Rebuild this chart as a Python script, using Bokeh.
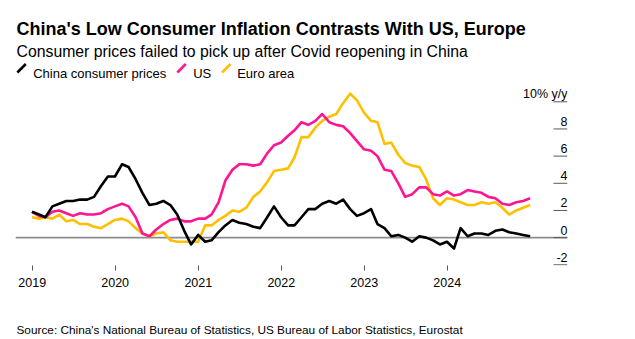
import pandas as pd
from bokeh.plotting import figure
from bokeh.layouts import column
from bokeh.models import Range1d, FixedTicker, DatetimeTickFormatter, Span, ColumnDataSource
from bokeh.core.properties import value
from bokeh.embed import file_html
from bokeh.resources import INLINE

# ---------------- data (y/y %, month end, Dec 2018 .. Dec 2024) ----------------
months = pd.date_range("2018-12-31", periods=73, freq="ME")
china = [1.9,
         1.7, 1.5, 2.3, 2.5, 2.7, 2.7, 2.8, 2.8, 3.0, 3.8, 4.5, 4.5,
         5.4, 5.2, 4.3, 3.3, 2.4, 2.5, 2.7, 2.4, 1.7, 0.5, -0.5, 0.2,
         -0.3, -0.2, 0.4, 0.9, 1.3, 1.1, 1.0, 0.8, 0.7, 1.5, 2.3, 1.5,
         0.9, 0.9, 1.5, 2.1, 2.1, 2.5, 2.7, 2.5, 2.8, 2.1, 1.6, 1.8,
         2.1, 1.0, 0.7, 0.1, 0.2, 0.0, -0.3, 0.1, 0.0, -0.2, -0.5, -0.3,
         -0.8, 0.7, 0.1, 0.3, 0.3, 0.2, 0.5, 0.6, 0.4, 0.3, 0.2, 0.1]
us = [1.9,
      1.6, 1.5, 1.9, 2.0, 1.8, 1.6, 1.8, 1.7, 1.7, 1.8, 2.1, 2.3,
      2.5, 2.3, 1.5, 0.3, 0.1, 0.6, 1.0, 1.3, 1.4, 1.2, 1.2, 1.4,
      1.4, 1.7, 2.6, 4.2, 5.0, 5.4, 5.4, 5.3, 5.4, 6.2, 6.8, 7.0,
      7.5, 7.9, 8.5, 8.3, 8.6, 9.1, 8.5, 8.3, 8.2, 7.7, 7.1, 6.5,
      6.4, 6.0, 5.0, 4.9, 4.0, 3.0, 3.2, 3.7, 3.7, 3.2, 3.1, 3.4,
      3.1, 3.2, 3.5, 3.4, 3.3, 3.0, 2.9, 2.5, 2.4, 2.6, 2.7, 2.9]
euro = [1.5,
        1.4, 1.5, 1.4, 1.7, 1.2, 1.3, 1.0, 1.0, 0.8, 0.7, 1.0, 1.3,
        1.4, 1.2, 0.7, 0.3, 0.1, 0.3, 0.4, -0.2, -0.3, -0.3, -0.3, -0.3,
        0.9, 0.9, 1.3, 1.6, 2.0, 1.9, 2.2, 3.0, 3.4, 4.1, 4.9, 5.0,
        5.1, 5.9, 7.4, 7.4, 8.1, 8.6, 8.9, 9.1, 9.9, 10.6, 10.1, 9.2,
        8.6, 8.5, 6.9, 7.0, 6.1, 5.5, 5.3, 5.2, 4.3, 2.9, 2.4, 2.9,
        2.8, 2.6, 2.4, 2.4, 2.6, 2.5, 2.6, 2.2, 1.7, 2.0, 2.2, 2.4]

series_names = ["China consumer prices", "US", "Euro area"]
x_tick_years = [2019, 2020, 2021, 2022, 2023, 2024]
y_ticks = [-2, 0, 2, 4, 6, 8, 10]
y_tick_labels = ["-2", "0", "2", "4", "6", "8", "10% y/y"]

title = "China's Low Consumer Inflation Contrasts With US, Europe"
subtitle = "Consumer prices failed to pick up after Covid reopening in China"
source_txt = "Source: China's National Bureau of Statistics, US Bureau of Labor Statistics, Eurostat"

# ---------------- styles / layout ----------------
FONT = "Liberation Sans"
BLACK, PINK, YELLOW = "#000000", "#ff1493", "#fdc000"
W = 635
HEAD_H, MAIN_H, FOOT_H = 82, 223, 34
LEFT, RIGHT, BOTTOM = 15, 68, 40


def blank(height):
    f = figure(width=W, height=height, x_range=Range1d(0, W), y_range=Range1d(height, 0),
               toolbar_location=None, output_backend="svg", title=None,
               x_axis_location=None, y_axis_location=None,
               min_border=0, min_border_left=0, min_border_right=0,
               min_border_top=0, min_border_bottom=0)
    f.frame_align = False
    f.outline_line_color = None
    f.grid.visible = False
    f.background_fill_color = "white"
    f.border_fill_color = "white"
    return f


# ---------------- header: title, subtitle, legend ----------------
head = blank(HEAD_H)
head.text(x=[16], y=[28.7], text=[title], text_font=value(FONT), text_font_size="18px",
          text_font_style="bold", text_baseline="alphabetic", text_color="#000000")
head.text(x=[16], y=[51.3], text=[subtitle], text_font=value(FONT), text_font_size="15.8px",
          text_baseline="alphabetic", text_color="#000000")
leg_icon_x = [16.8, 176.8, 221.5]
leg_text_x = [32.7, 192.7, 236.7]
leg_colors = [BLACK, PINK, YELLOW]
head.segment(x0=leg_icon_x, y0=[72] * 3, x1=[x + 8.5 for x in leg_icon_x], y1=[63.5] * 3,
             line_color=leg_colors, line_width=2.5)
head.text(x=leg_text_x, y=[73] * 3, text=series_names, text_font=value(FONT),
          text_font_size="13px", text_baseline="alphabetic", text_color="#000000")

# ---------------- main chart ----------------
ref = pd.Timestamp("2019-01-01")
px_per_day = 0.22727
x_start = ref - pd.Timedelta(days=(31.7 - LEFT) / px_per_day)
x_end = ref + pd.Timedelta(days=(W - RIGHT - 31.7) / px_per_day)
x_tick_start = x_end - pd.Timedelta(days=14 / px_per_day)   # 14 px long y tick marks
px_per_unit = 13.583
zero_y = 237.13 - HEAD_H          # local y of value 0 inside main figure
frame_h = MAIN_H - BOTTOM
y_end = zero_y / px_per_unit
y_start = (zero_y - frame_h) / px_per_unit

p = figure(width=W, height=MAIN_H, x_axis_type="datetime", y_axis_location=None,
           x_range=Range1d(x_start, x_end), y_range=Range1d(y_start, y_end),
           toolbar_location=None, output_backend="svg", title=None,
           min_border_left=LEFT, min_border_right=RIGHT,
           min_border_top=0, min_border_bottom=BOTTOM)
p.frame_align = False
p.outline_line_color = None
p.grid.visible = False
p.background_fill_color = "white"
p.border_fill_color = "white"

p.add_layout(Span(location=0, dimension="width", line_color="#8c8c8c",
                  line_width=1.6, level="underlay"))

# y tick marks (short segments at the right edge) and their labels above them
tick_src = ColumnDataSource(dict(x0=[x_tick_start] * len(y_ticks), x1=[x_end] * len(y_ticks),
                                 y=y_ticks, t=y_tick_labels))
p.segment(x0="x0", y0="y", x1="x1", y1="y", source=tick_src,
          line_color="#5a5a5a", line_width=1)
p.text("x1", "y", text="t", source=tick_src, text_align="right", text_baseline="alphabetic",
       y_offset=-7.5, text_font=value(FONT), text_font_size="12.5px", text_color="#000000")

src = ColumnDataSource(dict(x=months, china=china, us=us, euro=euro))
p.line("x", "euro", source=src, line_color=YELLOW, line_width=2.6, line_join="round")
p.line("x", "us", source=src, line_color=PINK, line_width=2.6, line_join="round")
p.line("x", "china", source=src, line_color=BLACK, line_width=2.6, line_join="round")

xa = p.xaxis[0]
xa.ticker = FixedTicker(ticks=[pd.Timestamp(f"{y}-01-01").value / 1e6 for y in x_tick_years])
xa.formatter = DatetimeTickFormatter(years="%Y", months="%Y", days="%Y", hours="%Y")
xa.axis_line_color = None
xa.major_tick_in = 0
xa.major_tick_out = 5
xa.major_tick_line_color = "#555555"
xa.minor_tick_line_color = None
xa.major_label_text_font = FONT
xa.major_label_text_font_size = "12.5px"
xa.major_label_text_color = "#000000"
xa.major_label_standoff = 7

# ---------------- footer: source ----------------
foot = blank(FOOT_H)
foot.text(x=[16], y=[329 - HEAD_H - MAIN_H], text=[source_txt], text_font=value(FONT),
          text_font_size="11.8px", text_baseline="alphabetic", text_color="#000000")

layout = column(head, p, foot, spacing=0)
open("out.html", "w").write(file_html(layout, INLINE))
